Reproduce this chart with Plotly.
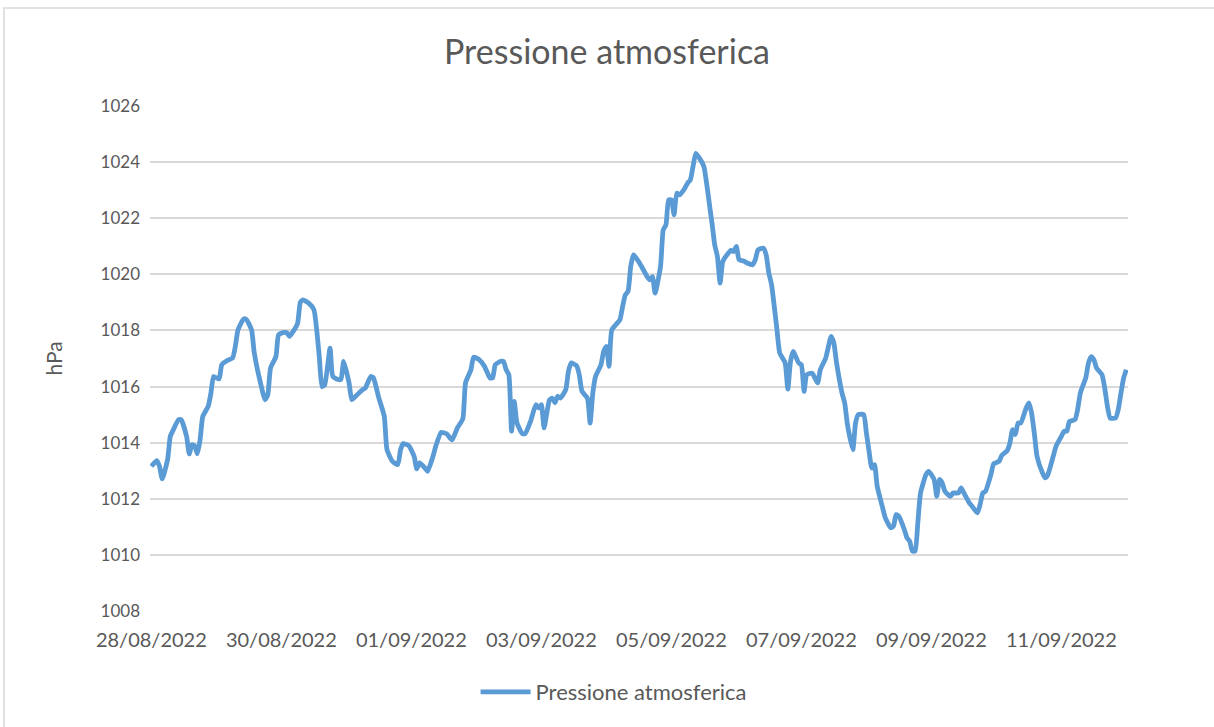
import pandas as pd
import plotly.graph_objects as go

# Hours elapsed since 28/08/2022 00:00
hours = [0, 2, 3, 4, 6, 7, 8, 10, 11, 13, 14, 15, 16, 17, 18, 19, 21, 22, 23, 25,
         26, 28, 30, 31, 32, 34, 35, 37, 38, 40, 42, 43, 44, 46, 47, 49, 50, 51, 52, 54,
         55, 56, 58, 60, 62, 63, 64, 66, 67, 69, 70, 71, 73, 74, 76, 78, 79, 81, 82, 84,
         86, 87, 89, 91, 92, 93, 95, 97, 98, 99, 101, 102, 104, 105, 107, 109, 111, 113, 115, 116,
         118, 119, 121, 123, 125, 126, 127, 129, 130, 131, 132, 133, 134, 135, 137, 138, 140, 142, 143, 144,
         145, 147, 148, 149, 150, 151, 153, 154, 155, 157, 158, 159, 161, 162, 163, 164, 166, 167, 168, 169,
         170, 172, 173, 174, 175, 176, 177, 178, 179, 181, 183, 184, 185, 186, 188, 189, 190, 191, 192, 193,
         194, 195, 197, 198, 199, 200, 201, 202, 204, 205, 206, 207, 208, 209, 210, 211, 213, 214, 215, 216,
         217, 219, 220, 222, 223, 224, 226, 227, 228, 229, 230, 231, 232, 234, 235, 236, 237, 239, 240, 241,
         242, 244, 246, 247, 249, 251, 252, 253, 255, 256, 257, 259, 260, 261, 263, 264, 265, 266, 267, 268,
         270, 271, 273, 274, 275, 276, 278, 279, 280, 281, 282, 283, 284, 286, 287, 289, 290, 291, 292, 293,
         295, 296, 298, 299, 300, 302, 303, 305, 306, 307, 308, 310, 311, 313, 314, 316, 317, 318, 319, 320,
         321, 323, 324, 325, 326, 327, 329, 330, 331, 333, 334, 336, 337, 338, 339, 341, 342, 343, 345, 346,
         347, 348, 349, 351, 352, 353, 354, 356, 357, 358, 359, 360]

pressure = [1013.16, 1013.36, 1013.16, 1012.71, 1013.40, 1014.23, 1014.44, 1014.82, 1014.82, 1014.23,
            1013.60, 1013.93, 1013.88, 1013.60, 1014.10, 1014.94, 1015.30, 1015.77, 1016.36, 1016.27,
            1016.78, 1016.93, 1017.02, 1017.43, 1018.02, 1018.40, 1018.40, 1018.02, 1017.20, 1016.25,
            1015.53, 1015.71, 1016.66, 1017.07, 1017.85, 1017.93, 1017.92, 1017.79, 1017.91, 1018.26,
            1019.00, 1019.09, 1018.98, 1018.74, 1017.07, 1016.00, 1016.06, 1017.37, 1016.36, 1016.25,
            1016.25, 1016.90, 1016.13, 1015.53, 1015.71, 1015.89, 1015.95, 1016.36, 1016.31, 1015.59,
            1014.94, 1013.75, 1013.34, 1013.22, 1013.75, 1013.97, 1013.90, 1013.52, 1013.07, 1013.28,
            1013.10, 1012.98, 1013.52, 1013.87, 1014.37, 1014.32, 1014.10, 1014.53, 1014.85, 1016.13,
            1016.60, 1017.05, 1016.96, 1016.72, 1016.31, 1016.31, 1016.78, 1016.90, 1016.90, 1016.60,
            1016.42, 1014.41, 1015.47, 1014.70, 1014.32, 1014.32, 1014.76, 1015.36, 1015.24, 1015.36,
            1014.53, 1015.53, 1015.59, 1015.42, 1015.65, 1015.59, 1015.89, 1016.54, 1016.84, 1016.74,
            1016.42, 1015.83, 1015.59, 1014.70, 1015.77, 1016.36, 1016.78, 1017.25, 1017.43, 1016.72,
            1018.02, 1018.26, 1018.38, 1018.85, 1019.27, 1019.39, 1020.28, 1020.69, 1020.58, 1020.28,
            1019.92, 1019.80, 1019.92, 1019.33, 1020.28, 1021.58, 1021.76, 1022.65, 1022.65, 1022.12,
            1022.89, 1022.83, 1023.07, 1023.25, 1023.36, 1023.84, 1024.31, 1024.19, 1023.84, 1023.25,
            1022.53, 1021.82, 1021.05, 1020.63, 1019.69, 1020.46, 1020.75, 1020.85, 1020.81, 1020.99,
            1020.52, 1020.46, 1020.40, 1020.34, 1020.52, 1020.87, 1020.93, 1020.69, 1020.04, 1019.63,
            1018.85, 1018.02, 1017.20, 1016.84, 1015.91, 1016.90, 1017.25, 1016.84, 1016.78, 1015.83,
            1016.42, 1016.48, 1016.13, 1016.60, 1017.02, 1017.79, 1017.55, 1016.84, 1015.77, 1015.42,
            1014.65, 1013.75, 1014.70, 1015.00, 1015.00, 1014.35, 1013.69, 1013.10, 1013.22, 1012.45,
            1011.68, 1011.32, 1010.97, 1011.03, 1011.44, 1011.38, 1010.91, 1010.61, 1010.49, 1010.14,
            1010.14, 1011.15, 1012.21, 1012.86, 1012.98, 1012.69, 1012.09, 1012.69, 1012.57, 1012.27,
            1012.09, 1012.21, 1012.21, 1012.39, 1012.21, 1011.86, 1011.74, 1011.50, 1011.80, 1012.21,
            1012.27, 1012.87, 1013.25, 1013.34, 1013.55, 1013.72, 1013.99, 1014.47, 1014.29, 1014.70,
            1014.70, 1015.24, 1015.42, 1015.06, 1014.35, 1013.52, 1012.93, 1012.75, 1012.86, 1013.52,
            1013.87, 1014.23, 1014.41, 1014.41, 1014.76, 1014.82, 1015.18, 1015.77, 1016.31, 1016.84,
            1017.07, 1016.96, 1016.66, 1016.42, 1015.95, 1015.30, 1014.88, 1014.88, 1015.18, 1015.77,
            1016.31, 1016.60]

tick_dates = ["2022-08-28", "2022-08-30", "2022-09-01", "2022-09-03",
              "2022-09-05", "2022-09-07", "2022-09-09", "2022-09-11"]
tick_labels = ["28/08/2022", "30/08/2022", "01/09/2022", "03/09/2022",
               "05/09/2022", "07/09/2022", "09/09/2022", "11/09/2022"]

start = pd.Timestamp("2022-08-28 00:00")
times = start + pd.to_timedelta(hours, unit="h")

FONT = "Lato, 'Open Sans', sans-serif"
GREY = "#595959"

fig = go.Figure()
fig.add_trace(go.Scatter(
    x=times, y=pressure, mode="lines",
    name="Pressione atmosferica",
    line=dict(color="#5B9BD5", width=4.8, shape="spline", smoothing=0.5),
))

fig.update_layout(
    width=1214, height=727,
    margin=dict(l=150, r=86, t=105, b=115),
    paper_bgcolor="white", plot_bgcolor="white",
    title=dict(text="Pressione atmosferica", x=0.5, xanchor="center",
               y=0.928, yanchor="middle",
               font=dict(family=FONT, size=34, color=GREY)),
    font=dict(family=FONT, color=GREY),
    showlegend=True,
    legend=dict(orientation="h", x=0.474, xanchor="center", y=-0.158, yanchor="middle",
                font=dict(family=FONT, size=22, color=GREY), itemwidth=50),
    xaxis=dict(
        range=[start - pd.Timedelta(minutes=30), start + pd.Timedelta(hours=360, minutes=36)],
        tickvals=pd.to_datetime(tick_dates), ticktext=tick_labels,
        showgrid=False, zeroline=False, showline=False, ticks="",
        tickfont=dict(family=FONT, size=20, color=GREY),
        ticklabelstandoff=14,
    ),
    yaxis=dict(
        range=[1007.97, 1026.03], dtick=2, tick0=1008,
        showgrid=True, gridcolor="#D9D9D9", gridwidth=1.5,
        zeroline=False, showline=False, ticks="",
        tickfont=dict(family=FONT, size=17, color=GREY),
        ticklabelstandoff=9,
        title=dict(text="hPa", font=dict(family=FONT, size=21, color=GREY), standoff=32),
    ),
    shapes=[dict(type="rect", xref="paper", yref="paper",
                 x0=(4 - 150) / 978, x1=(1240 - 150) / 978,
                 y0=(612 - 760) / 507, y1=1 + (105 - 8) / 507,
                 line=dict(color="#D9D9D9", width=1.5), layer="below")],
)

fig.write_html("out.html", config={"displayModeBar": False},
               post_script="document.body.style.margin='0';")
